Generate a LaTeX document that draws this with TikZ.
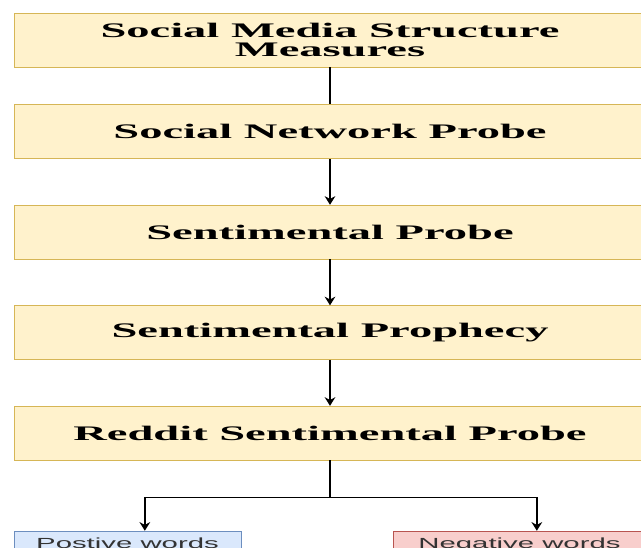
\documentclass[tikz,border=0pt]{standalone}
\usepackage{fontspec}
\newfontfamily\stagefont[FakeStretch=2.25]{Liberation Serif}
\newfontfamily\wordfont[FakeStretch=2.0]{Liberation Sans}
\usetikzlibrary{positioning, arrows.meta}
\definecolor{stagefill}{HTML}{FFF2CC}
\definecolor{stageline}{HTML}{D6B656}
\definecolor{posfill}{HTML}{DAE8FC}
\definecolor{posline}{HTML}{6C8EBF}
\definecolor{negfill}{HTML}{F8CECC}
\definecolor{negline}{HTML}{B85450}

\begin{document}
\begin{tikzpicture}[x=0.75pt, y=-0.75pt, node distance=34.5pt,
  stage/.style={draw=stageline, fill=stagefill, minimum width=474pt, minimum height=40.5pt, inner sep=0pt, align=center, font=\stagefont\bfseries\fontsize{15.5}{14.5}\selectfont},
  word/.style={minimum height=22pt, text height=8pt, text depth=4.5pt, inner sep=0pt, font=\wordfont\fontsize{11}{13}\selectfont, text=black!80},
  >={Stealth[length=6.5pt, width=8pt]}]
  \useasboundingbox (0,0) rectangle (641,548);
  \clip (0,0) rectangle (641,548);

  \node[stage] (measures) at (330,40) {Social Media Structure\\Measures};
  \node[stage] (network) [below=27.75pt of measures] {Social Network Probe};
  \node[stage] (probe) [below=of network] {Sentimental Probe};
  \node[stage] (prophecy) [below=of probe] {Sentimental Prophecy};
  \node[stage] (reddit) [below=of prophecy] {Reddit Sentimental Probe};

  \node[word, draw=posline, fill=posfill, minimum width=170pt] (positive) at (127.5,545.7) {Postive words};
  \node[word, draw=negline, fill=negfill, minimum width=190pt] (negative) at (519.5,545.7) {Negative words};
  \coordinate (split) at ([yshift=-27.75pt]reddit.south);

  \draw[line width=1.1pt] (measures) -- (network);
  \path[->, line width=1.1pt]
    (network) edge (probe)
    (probe) edge (prophecy)
    (prophecy) edge (reddit);
  \draw[->, line width=1.1pt] (reddit) -- (split) -| ([xshift=13pt]positive.north);
  \draw[->, line width=1.1pt] (split) -| ([xshift=13pt]negative.north);
\end{tikzpicture}
\end{document}
